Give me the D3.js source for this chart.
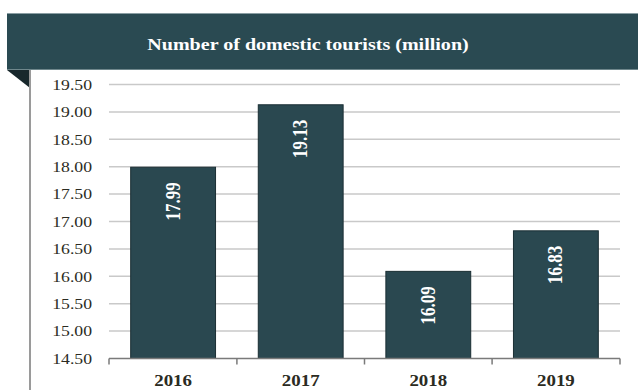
<!DOCTYPE html>
<html>
<head>
<meta charset="utf-8">
<script src="https://cdn.jsdelivr.net/npm/d3@7"></script>
<style>
  html, body { margin: 0; padding: 0; background: #fff; }
  svg { display: block; }
</style>
</head>
<body>
<svg id="chart" width="638" height="390"></svg>
<script>
// Domestic tourists per year, in millions
const years = ["2016", "2017", "2018", "2019"];
const tourists = [17.99, 19.13, 16.09, 16.83];
const yTicks = [14.5, 15, 15.5, 16, 16.5, 17, 17.5, 18, 18.5, 19, 19.5];
const title = "Number of domestic tourists (million)";

const svg = d3.select("#chart");
const W = 638, H = 390;
const serif = "'Liberation Serif', 'Times New Roman', serif";
const dark = "#2a4a52";
const stretch = 1.18; // text is drawn slightly wide

const plot = { left: 109, right: 620, top: 84.5, bottom: 358.5 };

const x = d3.scaleBand().domain(years).range([plot.left, plot.right])
  .paddingInner(0.335).paddingOuter(0.17);
const y = d3.scaleLinear().domain([14.5, 19.5]).range([plot.bottom, plot.top]);

// Title banner with folded corner
svg.append("rect").attr("x", 7).attr("y", 13).attr("width", W - 7).attr("height", 57)
  .attr("fill", dark);
svg.append("line").attr("x1", 7).attr("x2", W).attr("y1", 13.5).attr("y2", 13.5)
  .attr("stroke", "#8a9ea3").attr("stroke-width", 1);
svg.append("line").attr("x1", 7).attr("x2", W).attr("y1", 69.5).attr("y2", 69.5)
  .attr("stroke", "#6f878c").attr("stroke-width", 1);
svg.append("path").attr("d", "M7,70 L30,70 L30,88 Z").attr("fill", "#18282c");
svg.append("line").attr("x1", 30).attr("x2", 30).attr("y1", 70).attr("y2", H)
  .attr("stroke", "#9a9a9a").attr("stroke-width", 2);

svg.append("text").attr("transform", `translate(308,50) scale(${stretch},1)`)
  .attr("text-anchor", "middle").attr("fill", "#fff")
  .style("font-family", serif).style("font-weight", "bold").style("font-size", "17px")
  .text(title);

// Horizontal gridlines
svg.append("g").selectAll("line").data(yTicks.slice(1)).join("line")
  .attr("x1", plot.left).attr("x2", plot.right)
  .attr("y1", d => y(d)).attr("y2", d => y(d))
  .attr("stroke", "#c9c9c9").attr("stroke-width", 1.5);

// Y axis labels
const yAxis = d3.axisLeft(y).tickValues(yTicks).tickFormat(d3.format(".2f"))
  .tickSize(0).tickPadding(0);
const gy = svg.append("g").attr("transform", "translate(92,0)").call(yAxis);
gy.select(".domain").remove();
gy.selectAll("text").attr("fill", "#2b2b22")
  .attr("transform", `scale(${stretch},1)`)
  .style("font-family", serif).style("font-size", "15px");

// Bars
svg.append("g").selectAll("rect").data(years).join("rect")
  .attr("x", d => x(d)).attr("width", x.bandwidth())
  .attr("y", (d, i) => y(tourists[i]))
  .attr("height", (d, i) => y(14.5) - y(tourists[i]))
  .attr("fill", "#2a4850").attr("stroke", "#1a2e33").attr("stroke-width", 1);

// Value labels inside bars, rotated
svg.append("g").selectAll("text").data(years).join("text")
  .attr("transform", (d, i) =>
    `translate(${x(d) + x.bandwidth() / 2 + 6.5},${y(tourists[i]) + 15}) scale(${stretch},1) rotate(-90)`)
  .attr("text-anchor", "end").attr("fill", "#fff")
  .style("font-family", serif).style("font-weight", "bold").style("font-size", "17px")
  .text((d, i) => tourists[i].toFixed(2));

// X axis with ticks at band edges
const edges = years.map(d => x(d) - x.step() * x.paddingInner() / 2)
  .concat([plot.right]);
edges[0] = plot.left;
const gx = svg.append("g");
gx.append("line").attr("x1", plot.left).attr("x2", plot.right)
  .attr("y1", plot.bottom).attr("y2", plot.bottom)
  .attr("stroke", "#7a7a7a").attr("stroke-width", 1.5);
gx.selectAll("line.tick").data(edges).join("line").attr("class", "tick")
  .attr("x1", d => d).attr("x2", d => d)
  .attr("y1", plot.bottom).attr("y2", plot.bottom + 6)
  .attr("stroke", "#7a7a7a").attr("stroke-width", 1.5);
gx.selectAll("text").data(years).join("text")
  .attr("transform", d => `translate(${x(d) + x.bandwidth() / 2},386) scale(${stretch},1)`)
  .attr("text-anchor", "middle").attr("fill", "#2b2b22")
  .style("font-family", serif).style("font-weight", "bold").style("font-size", "16px")
  .text(d => d);
</script>
</body>
</html>
